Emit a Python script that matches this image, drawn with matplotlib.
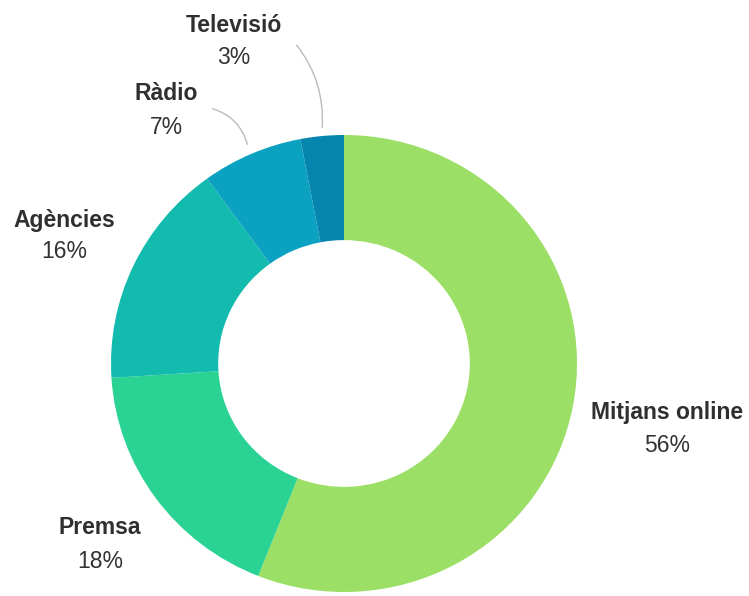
import matplotlib.pyplot as plt

# data
labels = ['Mitjans online', 'Premsa', 'Agències', 'Ràdio', 'Televisió']
values = [56, 18, 16, 7, 3]
colors = ['#9bdf66', '#2ad393', '#12bbad', '#0aa2c0', '#0686ae']

plt.rcParams['font.family'] = ['Liberation Sans', 'DejaVu Sans']

W, H = 749, 596
fig = plt.figure(figsize=(W / 100, H / 100), dpi=100)

# donut gets its own axes, placed on the pixel box of the ring
pax = fig.add_axes([111 / W, (H - 592) / H, 466 / W, 457 / H])
pax.pie(values, colors=colors, startangle=90, counterclock=False,
        radius=1, wedgeprops=dict(width=0.46, linewidth=0))
pax.set_xlim(-1, 1)
pax.set_ylim(-1, 1)
pax.set_aspect('auto')
pax.axis('off')

# overlay in pixel coords for labels and leader lines
ax = fig.add_axes([0, 0, 1, 1])
ax.set_xlim(0, W)
ax.set_ylim(0, H)
ax.axis('off')
ax.patch.set_alpha(0)

# label positions (x, y name, y pct) - y from top
lab_pos = {
    'Mitjans online': (667, 412, 446),
    'Premsa': (100, 528, 561),
    'Agències': (64, 220, 252),
    'Ràdio': (166, 93, 128),
    'Televisió': (234, 25, 58),
}
for lab, v in zip(labels, values):
    x, y1, y2 = lab_pos[lab]
    ax.text(x, H - y1, lab, ha='center', va='center', fontsize=16.5,
            fontweight='bold', color='#2f2f2f')
    ax.text(x, H - y2, f'{v}%', ha='center', va='center', fontsize=16.5,
            color='#333333')

# leader lines for the small slices
ax.annotate('', xy=(322, H - 130), xytext=(295, H - 43),
            arrowprops=dict(arrowstyle='-', color='#bbbbbb', lw=1,
                            connectionstyle='arc3,rad=-0.2'))
ax.annotate('', xy=(248, H - 147), xytext=(210, H - 108),
            arrowprops=dict(arrowstyle='-', color='#bbbbbb', lw=1,
                            connectionstyle='arc3,rad=-0.3'))

fig.savefig('out.png', dpi=100)
